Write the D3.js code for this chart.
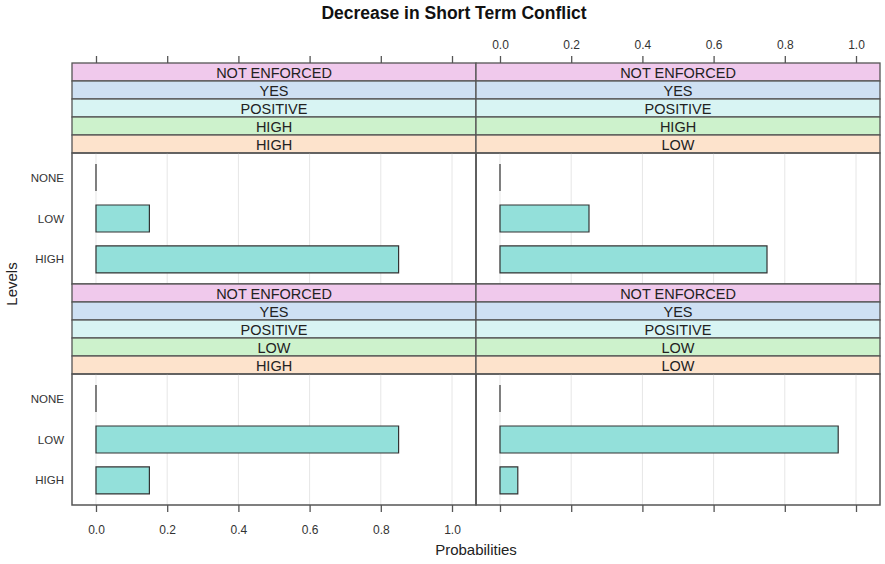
<!DOCTYPE html>
<html>
<head>
<meta charset="utf-8">
<script src="https://cdn.jsdelivr.net/npm/d3@7/dist/d3.min.js"></script>
<style>
  body { margin: 0; background: #fff; }
  text { font-family: "Liberation Sans", Arial, sans-serif; }
</style>
</head>
<body>
<div id="chart"></div>
<script>
// data
const levels = ["HIGH", "LOW", "NONE"];          // bottom to top
const panelStrips = [
  ["NOT ENFORCED", "YES", "POSITIVE", "HIGH", "HIGH"],
  ["NOT ENFORCED", "YES", "POSITIVE", "HIGH", "LOW"],
  ["NOT ENFORCED", "YES", "POSITIVE", "LOW", "HIGH"],
  ["NOT ENFORCED", "YES", "POSITIVE", "LOW", "LOW"]
];
const probHigh = [0.85, 0.75, 0.15, 0.05];
const probLow  = [0.15, 0.25, 0.85, 0.95];
const probNone = [0.0, 0.0, 0.0, 0.0];
const xTicks = [0, 0.2, 0.4, 0.6, 0.8, 1.0];
const stripColors = ["#f0c9ec", "#cee0f3", "#d8f4f3", "#cdf2cc", "#fde3cc"];

const W = 885, H = 564;
const svg = d3.select("#chart").append("svg")
  .attr("width", W).attr("height", H);

const padL = 72, padR = 880, padT = 63, padB = 505;
const panelW = (padR - padL) / 2;
const stripH = 18, nStrips = 5;
const plotH = 131;
const rowH = stripH * nStrips + plotH;

const border = "#555";

svg.append("text")
  .attr("x", 454).attr("y", 19)
  .attr("text-anchor", "middle")
  .attr("font-size", 17.5).attr("font-weight", "bold")
  .attr("fill", "#111")
  .text("Decrease in Short Term Conflict");

// panels: 0 = top-left, 1 = top-right, 2 = bottom-left, 3 = bottom-right
panelStrips.forEach((strips, i) => {
  const col = i % 2, row = Math.floor(i / 2);
  const x0 = padL + col * panelW;
  const y0 = padT + row * rowH;
  const g = svg.append("g").attr("transform", `translate(${x0},${y0})`);

  const x = d3.scaleLinear().domain([-0.0674, 1.0674]).range([0, panelW]);
  const plotTop = stripH * nStrips;
  const y = d3.scaleLinear().domain([0.4, 3.6]).range([plotTop + plotH, plotTop]);

  // strips
  strips.forEach((s, k) => {
    g.append("rect")
      .attr("x", 0).attr("y", k * stripH)
      .attr("width", panelW).attr("height", stripH)
      .attr("fill", stripColors[k])
      .attr("stroke", border).attr("stroke-width", 1.3);
    g.append("text")
      .attr("x", panelW / 2).attr("y", k * stripH + stripH / 2 + 5.5)
      .attr("text-anchor", "middle")
      .attr("font-size", 14.5).attr("fill", "#222")
      .text(s);
  });

  // grid
  g.selectAll(".grid").data(xTicks).join("line")
    .attr("x1", d => x(d)).attr("x2", d => x(d))
    .attr("y1", plotTop).attr("y2", plotTop + plotH)
    .attr("stroke", "#e6e6e6").attr("stroke-width", 1);

  // bars (as paths so zero-width bars still show their outline)
  const vals = [probHigh[i], probLow[i], probNone[i]];
  const bh = 0.66 * (y(0) - y(1));
  g.selectAll(".bar").data(vals).join("path")
    .attr("d", (d, k) => {
      const xa = x(0), xb = x(d), ya = y(k + 1) - bh / 2, yb = ya + bh;
      return `M${xa},${ya}H${xb}V${yb}H${xa}Z`;
    })
    .attr("fill", "#93e0da")
    .attr("stroke", "#333").attr("stroke-width", 1.2);

  // panel frame
  g.append("rect")
    .attr("x", 0).attr("y", plotTop)
    .attr("width", panelW).attr("height", plotH)
    .attr("fill", "none").attr("stroke", border).attr("stroke-width", 1.5);

  // y labels for left column
  if (col === 0) {
    g.selectAll(".ylab").data(levels).join("text")
      .attr("x", -8).attr("y", (d, k) => y(k + 1) + 4)
      .attr("text-anchor", "end")
      .attr("font-size", 11.5).attr("fill", "#333")
      .text(d => d);
  }

  // top axis on top row, bottom axis on bottom row
  if (row === 0) {
    const ax = g.append("g").call(d3.axisTop(x).tickValues(xTicks).tickSize(7)
      .tickPadding(7)
      .tickFormat(col === 1 ? d3.format(".1f") : ""));
    ax.select(".domain").remove();
    ax.selectAll("line").attr("stroke", border).attr("stroke-width", 1.3);
    ax.selectAll("text").attr("font-size", 12).attr("fill", "#333")
      .attr("font-family", "Liberation Sans, Arial, sans-serif");
  } else {
    const ax = g.append("g").attr("transform", `translate(0,${plotTop + plotH})`)
      .call(d3.axisBottom(x).tickValues(xTicks).tickSize(7)
        .tickPadding(8)
        .tickFormat(col === 0 ? d3.format(".1f") : ""));
    ax.select(".domain").remove();
    ax.selectAll("line").attr("stroke", border).attr("stroke-width", 1.3);
    ax.selectAll("text").attr("font-size", 12).attr("fill", "#333")
      .attr("dy", "1.2em")
      .attr("font-family", "Liberation Sans, Arial, sans-serif");
  }
});

svg.append("text")
  .attr("x", 476).attr("y", 555)
  .attr("text-anchor", "middle")
  .attr("font-size", 15).attr("fill", "#222")
  .text("Probabilities");

svg.append("text")
  .attr("transform", `translate(17,${(padT + padB) / 2}) rotate(-90)`)
  .attr("text-anchor", "middle")
  .attr("font-size", 15).attr("fill", "#222")
  .text("Levels");
</script>
</body>
</html>
